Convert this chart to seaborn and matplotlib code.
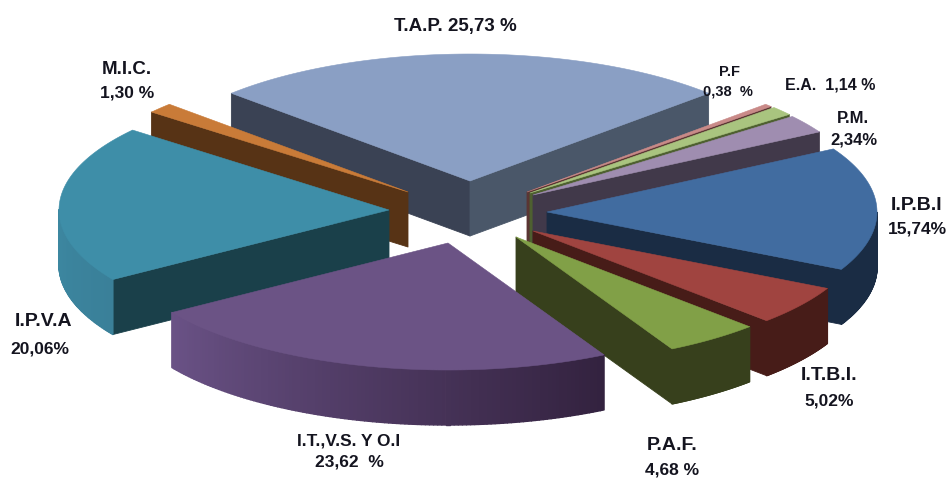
import numpy as np
import seaborn as sns
import matplotlib.pyplot as plt

# slices go clockwise from T.A.P.
names = ['T.A.P.', 'P.F', 'E.A.', 'P.M.', 'I.P.B.I', 'I.T.B.I.', 'P.A.F.', 'I.T.,V.S. Y O.I', 'I.P.V.A', 'M.I.C.']
values = [25.73, 0.38, 1.14, 2.34, 15.74, 5.02, 4.68, 23.62, 20.06, 1.30]
value_text = ['25,73 %', '0,38  %', '1,14 %', '2,34%', '15,74%', '5,02%', '4,68 %', '23,62  %', '20,06%', '1,30 %']

# styles
top_colors = ['#8a9fc4', '#c98a88', '#a9c47f', '#9f8db0', '#416ca0', '#a04440', '#81a047', '#6b5385', '#3e8ea8', '#c97b38']
cut_colors = ['#3a4254', '#5a3533', '#4e6030', '#41394a', '#1a2c44', '#471c18', '#37401c', '#33223f', '#1a404a', '#573315']
arc_from = ['#4a5769', '#5a3533', '#4e6030', '#41394a', '#1a2c44', '#471c18', '#37401c', '#33223f', '#3a8099', '#573315']
arc_to = ['#4a5769', '#5a3533', '#4e6030', '#41394a', '#1a2c44', '#471c18', '#37401c', '#6a5286', '#3f8fa9', '#573315']
apex_x = [470, 527, 530, 533, 547, 533, 516, 448, 389, 408]
apex_y = [181, 192, 193, 195, 212, 231, 237, 243, 210, 192]
draw_order = [0, 9, 8, 1, 2, 3, 4, 5, 6, 7]

name_x = [0, 729, 0, 853, 917, 829, 672, 349, 44, 127]
name_y = [0, 72, 0, 118, 206, 375, 445, 441, 322, 69]
name_size = [0, 10.5, 0, 12, 14, 14, 14, 12.5, 14, 13.5]
value_x = [0, 728, 0, 854, 917, 829, 672, 349, 40, 127]
value_y = [0, 91, 0, 140, 229, 401, 470, 462, 349, 93]
value_size = [0, 10.5, 0, 12, 12.5, 12.5, 12.5, 12.5, 12.5, 12.5]

RX = 330
RY = 127
DEPTH = 55

sns.set_theme(style='white')
plt.rcParams['font.family'] = ['Liberation Sans', 'DejaVu Sans']

fig = plt.figure(figsize=(9.5, 4.78), dpi=100)
ax = fig.add_axes([0, 0, 1, 1])
ax.set_xlim(0, 950)
ax.set_ylim(478, 0)
ax.axis('off')


def wall(x0, y0, x1, y1, color, lw=0.6):
    ax.fill([x0, x1, x1, x0], [y0, y1, y1 + DEPTH, y0 + DEPTH], color=color, lw=lw, joinstyle='round')


angles = np.array(values) / sum(values) * 360
starts = -angles[0] / 2 + np.concatenate([[0], np.cumsum(angles)[:-1]])

for i in draw_order:
    t = np.radians(np.linspace(starts[i], starts[i] + angles[i], 120))
    ex = apex_x[i] + RX * np.sin(t)
    ey = apex_y[i] - RY * np.cos(t)

    # only the faces turned to the viewer
    if np.sin(t[0]) < 0:
        wall(apex_x[i], apex_y[i], ex[0], ey[0], cut_colors[i])
    if np.sin(t[-1]) > 0:
        wall(apex_x[i], apex_y[i], ex[-1], ey[-1], arc_from[i] if i == 0 else cut_colors[i])

    shades = sns.blend_palette([arc_from[i], arc_to[i]], len(t))
    for j in range(len(t) - 1):
        if np.cos(t[j]) < 0:
            wall(ex[j], ey[j], ex[j + 1], ey[j + 1], shades[j], lw=1.0)

    ax.fill(np.r_[apex_x[i], ex], np.r_[apex_y[i], ey], color=top_colors[i], lw=0.4)

text_color = '#14141f'
ax.text(455, 26, names[0] + ' ' + value_text[0], ha='center', va='center', fontsize=13.5,
        fontweight='bold', color=text_color)
ax.text(830, 85, names[2] + '  ' + value_text[2], ha='center', va='center', fontsize=11.5,
        fontweight='bold', color=text_color)
for i in range(len(names)):
    if name_size[i] == 0:
        continue
    ax.text(name_x[i], name_y[i], names[i], ha='center', va='center', fontsize=name_size[i],
            fontweight='bold', color=text_color)
    ax.text(value_x[i], value_y[i], value_text[i], ha='center', va='center', fontsize=value_size[i],
            fontweight='bold', color=text_color)

fig.savefig('out.png', dpi=100, facecolor='white')
